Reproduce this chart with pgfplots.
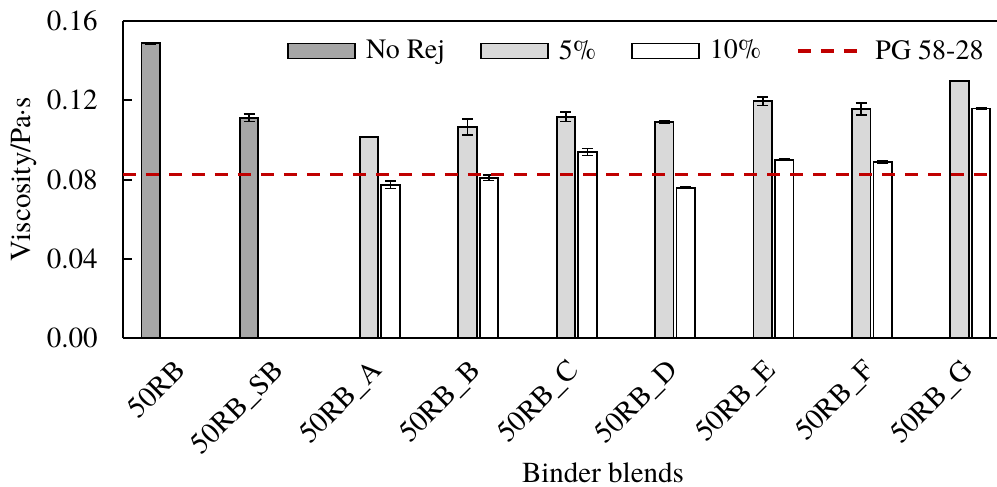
\documentclass[border=0pt]{standalone}
\usepackage{fontspec}
\setmainfont{texgyretermes-regular.otf}
\newfontfamily\tnr{texgyretermes-regular.otf}
\usepackage{pgfplots}
\pgfplotsset{compat=1.18}

\definecolor{norej}{HTML}{A6A6A6}
\definecolor{fivep}{HTML}{D9D9D9}
\definecolor{pgred}{HTML}{C00000}

\newcommand{\lblfont}{\tnr\fontsize{14.5}{17}\selectfont}
\newcommand{\legfont}{\tnr\fontsize{14}{16}\selectfont}

\begin{document}
\begin{tikzpicture}
\begin{axis}[
  at={(0pt,0pt)}, anchor=south west,
  scale only axis, width=437pt, height=158.5pt,
  xmin=-0.5, xmax=8.38, ymin=0, ymax=0.16,
  axis x line*=box, axis y line*=left,
  axis line style={-, line width=1pt, black},
  xtick={0,1,2,3,4,5,6,7,8},
  xticklabels={50RB,50RB\_SB,50RB\_A,50RB\_B,50RB\_C,50RB\_D,50RB\_E,50RB\_F,50RB\_G},
  xtick style={draw=none},
  ytick={0,0.04,0.08,0.12,0.16},
  ytick style={line width=1pt, black},
  tick align=inside, major tick length=4.5pt,
  scaled y ticks=false,
  yticklabel style={/pgf/number format/.cd, fixed, fixed zerofill, precision=2,
    assume math mode=true, /tikz/.cd, font=\lblfont, inner sep=0pt, xshift=-12.5pt},
  xticklabel style={font=\lblfont, inner sep=0pt, xshift=0.2pt, yshift=-9.7pt,
    rotate=45, anchor=north east},
  ylabel={Viscosity/Pa·s},
  ylabel style={font=\lblfont, at={(axis description cs:-0.1053,0.5)}, anchor=base},
  xlabel={Binder blends},
  xlabel style={font=\lblfont, at={(axis description cs:0.5492,-0.4574)}, anchor=base},
  legend columns=4,
  legend cell align=left,
  legend style={draw=none, fill=none, inner sep=0pt, font=\legfont,
    at={(axis description cs:0.1876,0.9054)}, anchor=west,
    nodes={inner sep=0pt},
    /tikz/every even column/.append style={column sep=17.5pt}},
  error bars/error mark options={rotate=90, line width=0.8pt, mark size=2.75pt, black},
]

% No rejuvenator
\addplot[ybar, bar width=9.25pt, bar shift=-10.75pt, fill=norej, draw=black, line width=0.9pt,
  error bars/.cd, y dir=both, y explicit,
  error bar style={line width=0.8pt, black, xshift=-10.75pt},
  /pgfplots/legend image code/.code={\draw[fill=norej, draw=black, line width=0.9pt] (0pt,-3.75pt) rectangle (33.5pt,3.75pt); \path (38.5pt,0pt);}]
  coordinates {(0,0.1487) +- (0,0.0002) (1,0.1111) +- (0,0.0019)};
\addlegendentry{No Rej}

% 5% rejuvenator
\addplot[ybar, bar width=9.25pt, bar shift=0pt, fill=fivep, draw=black, line width=0.9pt,
  error bars/.cd, y dir=both, y explicit,
  error bar style={line width=0.8pt, black},
  /pgfplots/legend image code/.code={\draw[fill=fivep, draw=black, line width=0.9pt] (0pt,-3.75pt) rectangle (33.5pt,3.75pt); \path (38.5pt,0pt);}]
  coordinates {(2,0.1015) +- (0,0.0003) (3,0.1065) +- (0,0.0041) (4,0.1116) +- (0,0.0024)
               (5,0.1091) +- (0,0.0005) (6,0.1195) +- (0,0.0021) (7,0.1156) +- (0,0.0031)
               (8,0.1298) +- (0,0.0)};
\addlegendentry{5\%}

% 10% rejuvenator
\addplot[ybar, bar width=9.25pt, bar shift=10.75pt, fill=white, draw=black, line width=0.9pt,
  error bars/.cd, y dir=both, y explicit,
  error bar style={line width=0.8pt, black, xshift=10.75pt},
  /pgfplots/legend image code/.code={\draw[fill=white, draw=black, line width=0.9pt] (0pt,-3.75pt) rectangle (33.5pt,3.75pt); \path (38.5pt,0pt);}]
  coordinates {(2,0.0774) +- (0,0.0019) (3,0.0808) +- (0,0.0014) (4,0.0939) +- (0,0.0018)
               (5,0.0759) +- (0,0.0003) (6,0.0900) +- (0,0.0003) (7,0.0888) +- (0,0.0005)
               (8,0.1158) +- (0,0.0005)};
\addlegendentry{10\%}

% PG 58-28 limit
\addplot[pgred, line width=1.6pt, dash pattern=on 6.5pt off 5pt, mark=none,
  legend image code/.code={\draw[pgred, line width=1.6pt, dash pattern=on 6.5pt off 5pt] (0pt,0pt) -- (29.5pt,0pt); \path (38pt,0pt);}]
  coordinates {(-0.5,0.0824) (8.38,0.0824)};
\addlegendentry{PG 58-28}
\end{axis}
\pgfresetboundingbox
\path (-61.5pt,-74.5pt) rectangle (437pt,169pt);
\end{tikzpicture}
\end{document}
